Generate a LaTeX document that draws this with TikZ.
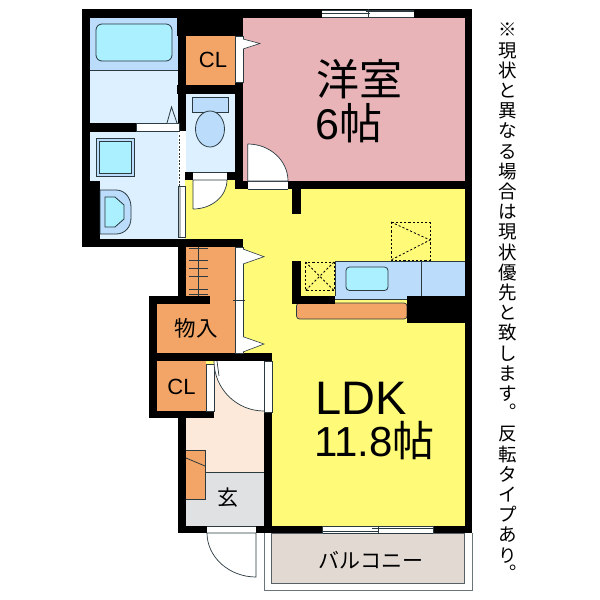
\documentclass[tikz,border=0pt]{standalone}
\usepackage{fontspec}
\setmainfont{Liberation Sans}
\newfontfamily\jp{Noto Sans CJK JP}
\definecolor{yel}{HTML}{FFFB78}
\definecolor{pinkroom}{HTML}{E8B4B8}
\definecolor{orng}{HTML}{F2A566}
\definecolor{peach}{HTML}{FDE9DA}
\definecolor{greyfl}{HTML}{E0E1E3}
\definecolor{balc}{HTML}{E2D9D2}
\definecolor{wetfl}{HTML}{DDF0FF}
\definecolor{tubbg}{HTML}{BBDCFA}
\definecolor{cyanw}{HTML}{AAF0FF}
\definecolor{ln}{HTML}{2A3A40}
\newcommand{\kuten}{\makebox[0pt][l]{\hspace{2pt}\raisebox{12.5pt}{。}}\hspace{18pt}}
\tikzset{
 wall/.style={fill=black,draw=none},
 thin line/.style={draw=ln,line width=0.7pt},
 fitting/.style={draw=ln,line width=0.8pt},
 doorleaf/.style={fill=white,draw=ln,line width=0.7pt},
 opening/.style={fill=white,draw=none},
 dashbox/.style={draw=black,line width=0.8pt,dash pattern=on 2.2pt off 2pt},
 label/.style={inner sep=0pt,text=black},
}
\begin{document}
\begin{tikzpicture}[x=1pt,y=-1pt]
\useasboundingbox (0,0) rectangle (600,600);
\fill[white] (0,0) rectangle (600,600);
% floors
\fill[yel] (185,180) rectangle (465,526);
\fill[pinkroom] (243,17) rectangle (465,181);
\fill[wetfl] (90,17) rectangle (178,123);
\fill[tubbg] (90,17) rectangle (178,70);
\draw[thin line] (90,70) -- (178,70);
\fill[wetfl] (90,131) rectangle (178,239);
\fill[wetfl] (186,94) rectangle (235,172);
\fill[peach] (186,411) rectangle (264,472);
\fill[peach] (214,361) rectangle (264,412);
\fill[greyfl] (186,472) rectangle (264,526);
\draw[thin line] (186,472) -- (264,472);
\fill[orng] (186,36) rectangle (235,85);
\fill[orng] (186,247) rectangle (235,296);
\fill[orng] (157,296) rectangle (235,353);
\fill[orng] (157,361) rectangle (206,411);
% balcony
\draw[draw=ln!70,line width=0.8pt] (264,533) -- (264,590) -- (472,590) -- (472,533);
\fill[balc,draw=ln!80,line width=0.8pt] (271.7,533) rectangle (464.7,583);
% walls
\fill[wall] (82,9) rectangle (472,17.5);
\fill[wall] (82,9) rectangle (90,246.5);
\fill[wall] (82,181) rectangle (100,246.5);
\fill[wall] (82,238.5) rectangle (186,246.5);
\fill[wall] (90,123) rectangle (136,131.5);
\fill[wall] (177.5,17) rectangle (186,131);
\fill[wall] (177,17) rectangle (243,36);
\fill[wall] (177,85) rectangle (243,94);
\fill[wall] (235,82) rectangle (243,189);
\fill[wall] (185,172) rectangle (193,180);
\fill[wall] (227,172) rectangle (235,180);
\fill[wall] (235,181) rectangle (247.5,189);
\fill[wall] (288,181) rectangle (472,189);
\fill[wall] (292,189) rectangle (300.5,214);
\fill[wall] (464.5,9) rectangle (472,533);
\fill[wall] (177.5,239) rectangle (243,247);
\fill[wall] (177.5,239) rectangle (186,296);
\fill[wall] (149,296) rectangle (210,304);
\fill[wall] (149,296) rectangle (157,418);
\fill[wall] (149,353) rectangle (272,361);
\fill[wall] (149,411) rectangle (214,418);
\fill[wall] (177.5,411) rectangle (186,533);
\fill[wall] (264,412) rectangle (272,533);
\fill[wall] (177.5,525.5) rectangle (472,533);
\fill[wall] (292,261) rectangle (300.5,303.5);
% openings
\fill[doorleaf] (136,123.5) rectangle (179,131);
\draw[fitting,fill=wetfl] (167,123) -- (171.5,107) -- (177,123);
\draw[doorleaf] (235,36) rectangle (243,82);
\draw[fitting,fill=white,line width=0.6pt] (243,39) -- (260,43.5) -- (243,49);
% sliding door wash
\fill[white] (178,135) rectangle (185,186);
\draw[draw=ln,dash pattern=on 2pt off 1.5pt,line width=1.5pt] (179.5,135) -- (179.5,186);
\fill[white] (178,186) rectangle (185,237);
\fill[ln!35] (178,186) rectangle (181,237);
\draw[thin line] (178,186) rectangle (185,237);
% toilet door
\fill[opening] (193,172) rectangle (227,180);
\draw[thin line] (193,172) -- (227,172) (193,180) -- (227,180);
\draw[doorleaf] (193,209) -- (193,180) -- (227,180) .. controls (227,196) and (212,209) .. (193,209);
% room door
\fill[opening] (247.5,181) rectangle (288,189);
\draw[thin line] (247.5,181) -- (288,181) (247.5,189) -- (288,189);
\draw[doorleaf] (247.7,144) -- (247.7,181) -- (288,181) .. controls (288,160.6) and (270,144) .. (247.7,144);
% top window
\fill[opening] (322,10) rectangle (413.5,17);
\draw[thin line] (322,10) -- (413.5,10) (322,17) -- (413.5,17) (322,13) -- (370,13) (366,11.5) -- (413.5,11.5) (368,9) -- (368,17);
% storage doors
\draw[doorleaf] (235,247) rectangle (243,353);
\draw[thin line] (233,300.7) -- (245,300.7);
\draw[fitting,fill=white,line width=0.6pt] (243,249) -- (264,256.7) -- (243,264);
\draw[fitting,fill=white,line width=0.6pt] (243,336.7) -- (264,344) -- (243,352);
% shelf
\draw[thin line] (198,247) -- (198,296);
\foreach \yy in {248,260,268,276,289,294}{\draw[thin line] (189,\yy) -- (208,\yy);}
% CL2 door and entrance door
\draw[doorleaf] (206,364) rectangle (214,411);
\draw[doorleaf,draw=none] (214,361) -- (264,361) -- (264,411) .. controls (236.4,411) and (214,388.6) .. (214,361) -- cycle;
\draw[thin line] (264,411) .. controls (236.4,411) and (214,388.6) .. (214,361);
\draw[thin line] (217,361) -- (219,376);
\draw[thin line,fill=white] (264,361) rectangle (272,412);
% tub & fittings
\draw[fitting,fill=cyanw,rounded corners=6pt] (96,24) rectangle (172,61);
\draw[fitting,fill=tubbg] (96,138) rectangle (134,176);
\draw[fitting,fill=cyanw] (99,141) rectangle (131,173);
\draw[fitting,fill=tubbg] (100,190) -- (116,190) .. controls (125,190) and (131,198) .. (131,207) -- (131,218) .. controls (131,227) and (125,234) .. (116,234) -- (100,234) -- cycle;
\draw[fitting,fill=cyanw] (105,197) -- (115,197) -- (124,205) -- (124,219) -- (115,227) -- (105,227) -- cycle;
\draw[fitting,fill=tubbg] (192,97) rectangle (228,112);
\draw[fitting,fill=tubbg] (210,129) ellipse[x radius=14.5,y radius=18];
% kitchen
\draw[fill=orng,draw=ln,line width=0.7pt,rounded corners=3pt] (296.5,303) -- (296.5,319) -- (407,319) -- (407,303) -- cycle;
\fill[tubbg] (335,261) rectangle (464.5,295.5);
\fill[tubbg] (335,295.5) rectangle (407,299.5);
\draw[thin line] (335,261) -- (464.5,261) (335,261) -- (335,296) (335,299.5) -- (407,299.5) (421,261) -- (421,295.5);
\fill[wall] (292,295.5) rectangle (335,303.5);
\fill[wall] (407,295.5) rectangle (472,323);
\draw[fitting,fill=cyanw,rounded corners=3.5pt] (346,267) rectangle (388,290.5);
\draw[dashbox] (305.5,262) rectangle (334,290.5);
\draw[dashbox] (305.5,262) -- (334,290.5) (334,262) -- (305.5,290.5);
\draw[dashbox] (391,222) rectangle (430,260);
\draw[dashbox] (391,222) -- (430,240) -- (391,260);
% bottom openings
\fill[opening] (207,526) rectangle (256,533);
\draw[thin line] (207,526) -- (256,526);
\draw[doorleaf] (207,533) -- (256,533) -- (256,577) .. controls (229,577) and (207,557) .. (207,533);
\fill[opening] (322,526) rectangle (433,533);
\draw[thin line] (322.5,526) -- (433,526) (322.5,533) -- (433,533) (322.5,526) -- (322.5,533) (433,526) -- (433,533) (322.5,531) -- (378,531) (372,528.5) -- (433,528.5) (378,526) -- (378,533);
% shoe box
\draw[fitting,fill=orng] (186,450) -- (205,450) -- (205,499) -- (186,499);
\draw[fitting] (186,458) -- (205,466);
% labels
\node[label,font=\jp\fontsize{43}{43}\selectfont] (western) at (359.5,79) {洋室};
\node[label,font=\fontsize{43}{43}\selectfont,anchor=west] (sixj) at (315,123) {6{\jp 帖}};
\node[label,font=\fontsize{22}{22}\selectfont] (cla) at (213,60) {CL};
\node[label,font=\fontsize{22}{22}\selectfont] (clb) at (181.5,387) {CL};
\node[label,font=\jp\fontsize{21.5}{21.5}\selectfont] (store) at (196,328) {物入};
\node[label,font=\fontsize{47}{47}\selectfont] (ldk) at (361,398) {LDK};
\node[label,font=\fontsize{42}{42}\selectfont,anchor=west] (area) at (314,441) {11.8{\jp 帖}};
\node[label,font=\jp\fontsize{21}{21}\selectfont] (genkan) at (228,498) {玄};
\node[label,font=\jp\fontsize{21}{21}\selectfont] (balcony) at (371,560) {バルコニー};
\node[label,font=\jp\fontsize{18.5}{20.2}\selectfont,align=center,anchor=north] (note) at (507.5,23) {※\\現\\状\\と\\異\\な\\る\\場\\合\\は\\現\\状\\優\\先\\と\\致\\し\\ま\\す\\\kuten\\反\\転\\タ\\イ\\プ\\あ\\り\\\kuten};
\end{tikzpicture}
\end{document}
